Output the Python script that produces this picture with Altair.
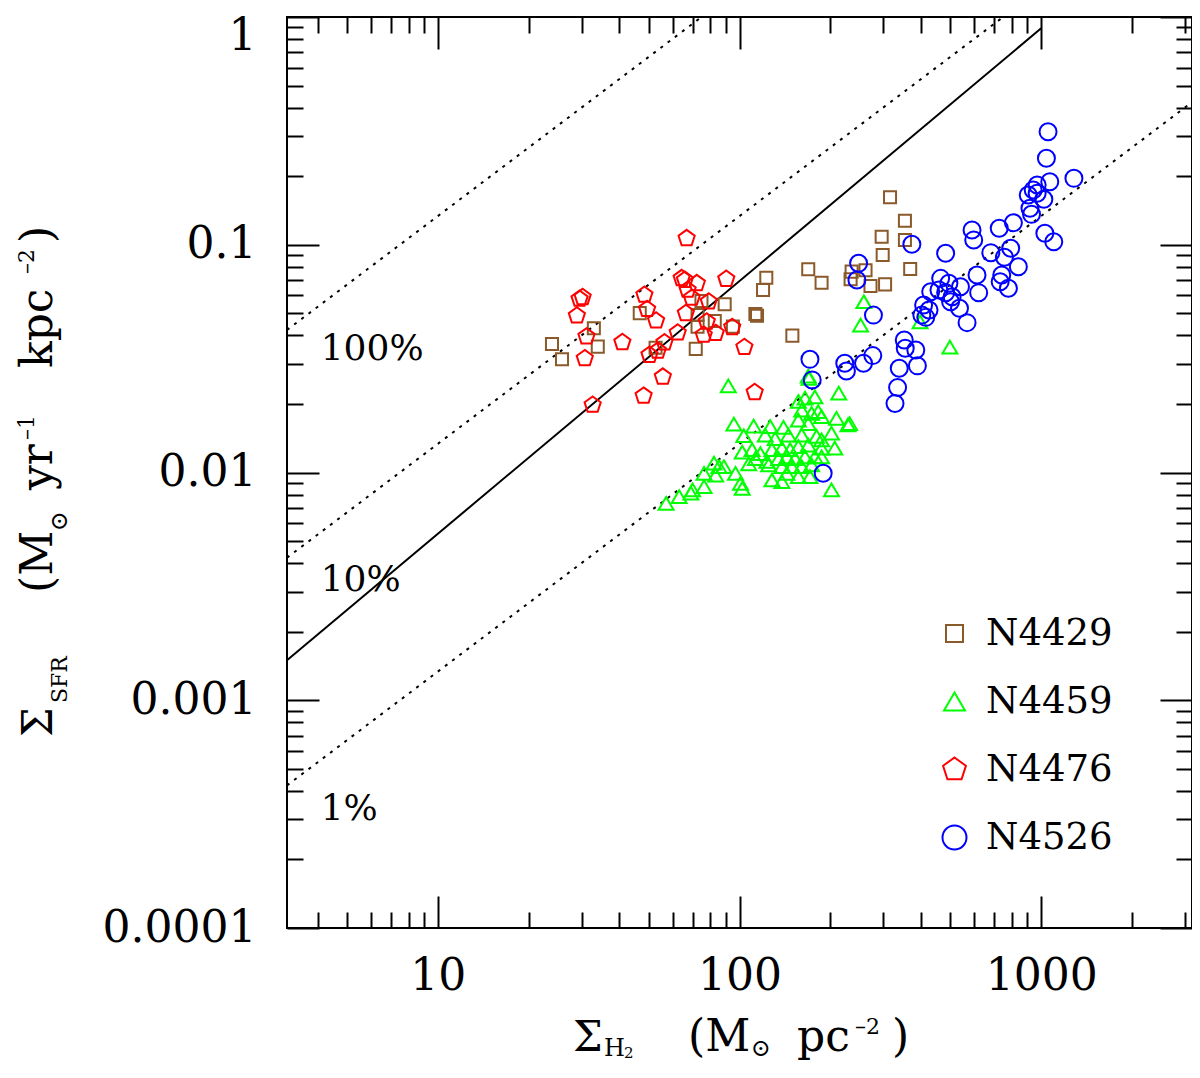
import altair as alt
import pandas as pd

FONT = "DejaVu Serif"

# ---- data ----
galaxies = ["N4429", "N4459", "N4476", "N4526"]
colors = ["#8b5a2b", "#00ff00", "#ff0000", "#0000ff"]

# N4429 (brown squares)
n4429_h2 = [169.0, 187.1, 122.7, 119.7, 74.8, 89.3, 46.7, 72.6, 112.9, 114.3,
            32.9, 82.8, 72.6, 95.1, 33.9, 23.9, 25.8, 52.7, 71.6, 149.7,
            315.5, 353.5, 296.0, 353.5, 298.3, 368.0, 235.3, 261.7, 233.5, 271.8, 303.8]
n4429_sfr = [0.0780, 0.0681, 0.0717, 0.0633, 0.0566, 0.0548, 0.0501, 0.0491, 0.0496, 0.0488,
             0.0430, 0.0463, 0.0437, 0.0437, 0.0357, 0.0367, 0.0314, 0.0353, 0.0349, 0.0399,
             0.1615, 0.1275, 0.1084, 0.1050, 0.0902, 0.0782, 0.0762, 0.0772, 0.0705, 0.0659, 0.0670]

# N4459 (green triangles)
n4459_h2 = [91.8, 213.3, 169.0, 156.7, 164.9, 177.8, 160.8, 173.4, 182.3, 187.1,
            95.8, 111.4, 126.5, 139.9, 156.7, 169.0, 209.6, 228.8, 231.8, 103.3,
            121.7, 131.3, 145.3, 160.8, 180.1, 201.8, 187.1, 102.1, 110.1, 117.3,
            128.1, 138.2, 147.2, 156.7, 169.0, 187.1, 206.9, 112.9, 123.3, 134.7,
            143.6, 152.8, 164.9, 177.8, 187.1, 82.3, 85.5, 88.8, 107.3, 124.9,
            138.2, 149.1, 160.8, 173.4, 76.3, 83.4, 97.0, 143.6, 156.7, 171.2,
            128.1, 138.2, 100.8, 102.1, 76.3, 69.9, 69.0, 63.1, 57.1, 201.8,
            258.3, 252.0, 396.9, 498.2, 169.9]
n4459_sfr = [0.0240, 0.0223, 0.0265, 0.0205, 0.0212, 0.0215, 0.0188, 0.0182, 0.0185, 0.0176,
             0.0163, 0.0160, 0.0159, 0.0158, 0.0170, 0.0164, 0.0173, 0.0162, 0.0164, 0.0145,
             0.0146, 0.0141, 0.0146, 0.0146, 0.0144, 0.0149, 0.0139, 0.0123, 0.0126, 0.0121,
             0.0126, 0.0128, 0.0126, 0.0130, 0.0132, 0.0128, 0.0128, 0.0115, 0.0112, 0.0115,
             0.0117, 0.0115, 0.0117, 0.0117, 0.0117, 0.0110, 0.0106, 0.0106, 0.0109, 0.0108,
             0.0106, 0.0106, 0.0106, 0.0108, 0.00992, 0.00975, 0.00992, 0.00992, 0.00959, 0.00959,
             0.00927, 0.00911, 0.00897, 0.00852, 0.00866, 0.00838, 0.00811, 0.00783, 0.00732, 0.00838,
             0.0562, 0.0444, 0.0459, 0.0355, 0.0259]

# N4476 (red pentagons)
n4476_h2 = [66.8, 64.3, 65.9, 72.2, 67.3, 69.5, 90.4, 30.2, 29.5, 28.9,
            48.4, 49.4, 52.9, 66.4, 79.1, 77.9, 76.1, 83.4, 94.6, 62.4,
            56.4, 50.3, 53.6, 31.1, 40.9, 30.7, 103.8, 55.7, 48.1, 32.6, 112.3]
n4476_sfr = [0.1067, 0.0712, 0.0700, 0.0677, 0.0633, 0.0584, 0.0707, 0.0588, 0.0578, 0.0488,
             0.0602, 0.0521, 0.0464, 0.0500, 0.0562, 0.0459, 0.0402, 0.0409, 0.0434, 0.0411,
             0.0372, 0.0328, 0.0342, 0.0395, 0.0373, 0.0317, 0.0355, 0.0263, 0.0217, 0.0198, 0.0225]

# N4526 (blue circles)
n4526_h2 = [1054, 1040.9, 1284, 1068, 970, 941, 906, 970, 1020.7, 918,
            929, 809, 726, 590, 597.6, 1028.5, 1101, 372.7, 482.3, 681,
            792.5, 755.5, 840.3, 248.2, 245.0, 612.8, 740.2, 731.3, 778.8, 464.4,
            494.5, 540.2, 620.6, 430.4, 458.3, 482.3, 506.9, 500.9, 424.9, 402.2,
            414.5, 536.1, 568, 278, 351.7, 354.3, 384.1, 276.6, 257.7, 223.3,
            226.2, 388.8, 338.5, 334.2, 327.7, 171.2, 174.2, 189.4, 407.7]
n4526_sfr = [0.3135, 0.2397, 0.1957, 0.1891, 0.1830, 0.1739, 0.1654, 0.1682, 0.1583, 0.1446,
             0.1360, 0.1249, 0.1181, 0.1161, 0.1050, 0.1123, 0.1031, 0.1005, 0.0918, 0.0923,
             0.0965, 0.0881, 0.0801, 0.0829, 0.0700, 0.0737, 0.0737, 0.0688, 0.0644, 0.0712,
             0.0677, 0.0654, 0.0616, 0.0622, 0.0633, 0.0616, 0.0591, 0.0562, 0.0517, 0.0491,
             0.0480, 0.0526, 0.0455, 0.0491, 0.0382, 0.0351, 0.0345, 0.0326, 0.0302, 0.0302,
             0.0279, 0.0294, 0.0287, 0.0236, 0.0201, 0.0314, 0.0255, 0.00992, 0.0544]

# solid relation and constant efficiency lines
fit_h2 = [3.162, 1000]
fit_sfr = [0.0015, 0.892]
eff_name = ["100%", "100%", "10%", "10%", "1%", "1%"]
eff_h2 = [3.162, 74.85, 3.162, 748.5, 3.162, 3162]
eff_sfr = [0.04225, 1.0, 0.004225, 1.0, 0.0004225, 0.4225]

pct_text = ["100%", "10%", "1%"]
pct_h2 = [4.09, 4.09, 4.09]
pct_sfr = [0.0312, 0.00302, 0.000298]

x_major = [10, 100, 1000]
x_minor = [m * 10 ** e for e in range(0, 4) for m in range(2, 10) if 3.2 < m * 10 ** e < 3160]
y_major = [0.0001, 0.001, 0.01, 0.1, 1]
y_minor = [m * 10.0 ** e for e in range(-4, 0) for m in range(2, 10)]

# ---- tables ----
pts = pd.concat([
    pd.DataFrame({"gal": "N4429", "h2": n4429_h2, "sfr": n4429_sfr}),
    pd.DataFrame({"gal": "N4476", "h2": n4476_h2, "sfr": n4476_sfr}),
    pd.DataFrame({"gal": "N4459", "h2": n4459_h2, "sfr": n4459_sfr}),
    pd.DataFrame({"gal": "N4526", "h2": n4526_h2, "sfr": n4526_sfr}),
], ignore_index=True)
fit_df = pd.DataFrame({"h2": fit_h2, "sfr": fit_sfr})
eff_df = pd.DataFrame({"eff": eff_name, "h2": eff_h2, "sfr": eff_sfr})
pct_df = pd.DataFrame({"label": pct_text, "h2": pct_h2, "sfr": pct_sfr})

xs = alt.Scale(type="log", domain=[10 ** 0.5, 10 ** 3.5], nice=False)
ys = alt.Scale(type="log", domain=[0.0001, 1], nice=False)


def ax(orient, values, size, labels=False, pad=0, loff=0):
    # inward ticks: shift the axis inside by its own tick length
    return alt.Axis(orient=orient, values=values, tickSize=size, offset=-size,
                    labels=labels, labelPadding=pad, labelOffset=loff,
                    domain=False, grid=False,
                    title=None, tickColor="black", tickWidth=2, format="~g",
                    labelFont=FONT, labelFontSize=44, labelColor="black",
                    labelFlush=False, labelOverlap=False)


square = "M-0.708,-0.708L0.708,-0.708L0.708,0.708L-0.708,0.708Z"
triangle = "M0,-0.75L0.875,0.75L-0.875,0.75Z"
pentagon = "M0,-1L0.951,-0.309L0.588,0.809L-0.588,0.809L-0.951,-0.309Z"
shapes = [square, triangle, pentagon, "circle"]

legend = alt.Legend(orient="none", legendX=649, legendY=598, direction="vertical",
                    title=None, padding=0, labelFont=FONT, labelFontSize=37,
                    labelColor="black", symbolSize=576, symbolStrokeWidth=2,
                    rowPadding=30, labelOffset=13)

# keep the top "1" label inside the page
top_label_shift = {"condition": {"test": "datum.value >= 1", "value": 19}, "value": 0}

solid = alt.Chart(fit_df).mark_line(color="black", strokeWidth=2).encode(
    x=alt.X("h2:Q", scale=xs, axis=ax("bottom", x_major, 32, True, 26)),
    y=alt.Y("sfr:Q", scale=ys, axis=ax("left", y_major, 32, True, 31, top_label_shift)),
)

dotted = alt.Chart(eff_df).mark_line(color="black", strokeWidth=2, strokeDash=[3, 6], clip=True).encode(
    x=alt.X("h2:Q", scale=xs, axis=ax("bottom", x_minor, 16)),
    y=alt.Y("sfr:Q", scale=ys, axis=ax("left", y_minor, 16)),
    detail="eff:N",
)

scatter = alt.Chart(pts).mark_point(filled=False, strokeWidth=2, size=289, opacity=1).encode(
    x=alt.X("h2:Q", scale=xs, axis=ax("top", x_major, 32)),
    y=alt.Y("sfr:Q", scale=ys, axis=ax("right", y_major, 32)),
    color=alt.Color("gal:N", scale=alt.Scale(domain=galaxies, range=colors), legend=legend),
    shape=alt.Shape("gal:N", scale=alt.Scale(domain=galaxies, range=shapes), legend=legend),
)

pct = alt.Chart(pct_df).mark_text(align="left", baseline="alphabetic", font=FONT,
                                  fontSize=36, color="black").encode(
    x=alt.X("h2:Q", scale=xs, axis=ax("top", x_minor, 16)),
    y=alt.Y("sfr:Q", scale=ys, axis=ax("right", y_minor, 16)),
    text="label:N",
)


def piece(txt, x, y, size, angle=0):
    return alt.Chart(alt.Data(values=[{}])).mark_text(
        text=txt, align="left", baseline="alphabetic", font=FONT,
        fontSize=size, color="black", angle=angle,
    ).encode(x=alt.value(x), y=alt.value(y))


# axis titles built from pieces (sub/superscripts)
y_title = [
    piece("Σ", -235, 720, 42, 270),
    piece("SFR", -220, 686, 22, 270),
    piece("(M", -235, 576, 44, 270),
    piece("⊙", -220, 514, 24, 270),
    piece("yr", -235, 473, 44, 270),
    piece("–1", -253, 423, 22, 270),
    piece("kpc", -235, 351, 44, 270),
    piece("–2", -253, 257, 22, 270),
    piece(")", -235, 226, 44, 270),
]
x_title = [
    piece("Σ", 286, 1034, 42),
    piece("H", 317, 1039, 24),
    piece("2", 337, 1041, 15),
    piece("(M", 401, 1034, 44),
    piece("⊙", 464, 1039, 24),
    piece("pc", 510, 1034, 44),
    piece("–2", 568, 1017, 22),
    piece(")", 605, 1034, 44),
]

chart = alt.layer(solid, dotted, scatter, pct, *y_title, *x_title).resolve_axis(
    x="independent", y="independent"
).properties(
    width=905, height=911,
    padding={"left": 279, "top": 9, "right": 0, "bottom": 135},
    autosize=alt.AutoSizeParams(type="none"),
).configure_view(stroke="black", strokeWidth=2)

chart.save("out.html", embed_options={"renderer": "svg", "actions": False})
